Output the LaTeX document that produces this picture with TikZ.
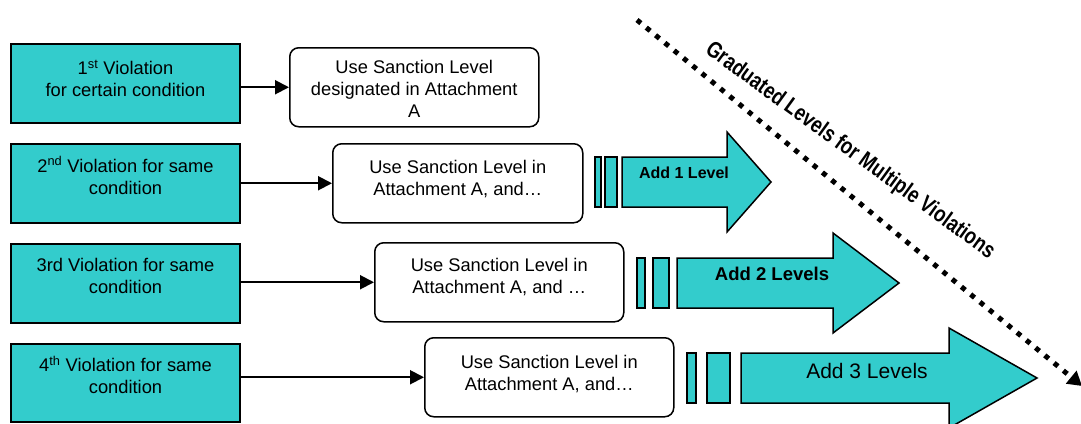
\documentclass[tikz,border=0pt]{standalone}
\usepackage{fontspec}
\setmainfont{Liberation Sans}
\usetikzlibrary{arrows.meta,calc}
\definecolor{tealc}{RGB}{51,204,204}
\begin{document}
\begin{tikzpicture}[x=1pt,y=1pt,
  vbox/.style={draw=black, line width=2pt, fill=tealc, minimum width=229pt, minimum height=79pt, inner sep=0pt, anchor=north west},
  ubox/.style={draw=black, line width=1.5pt, fill=white, rounded corners=9pt, minimum width=249pt, minimum height=79pt, inner sep=0pt, anchor=north west},
  txt/.style={font=\fontsize{18.3}{22}\selectfont, align=center, inner sep=0pt},
  conn/.style={line width=2pt, -{Triangle[length=14pt,width=14pt]}},
  bar/.style={draw=black, line width=1.5pt, fill=tealc},
  bigarrow/.style={draw=black, line width=1.5pt, fill=tealc, line join=miter},
  dots/.style={line width=5pt, dash pattern=on 5pt off 7pt, -{Triangle[length=14pt,width=16pt]}},
]
\useasboundingbox (0,0) rectangle (1081,-423);
\clip (0,0) rectangle (1081,-423);

% Row 1
\node[vbox] (v1) at (10,-43) {};
\node[txt] (v1t) at ($(v1.center)+(0,5)$) {1\textsuperscript{st} Violation\\for certain condition};
\node[ubox] (u1) at (289,-47) {};
\node[txt] (u1t) at ($(u1.center)+(0,-2)$) {Use Sanction Level\\designated in Attachment\\A};
\draw[conn] (v1.east |- u1.west) -- (u1.west);

% Row 2
\node[vbox] (v2) at (10,-143) {};
\node[txt] (v2t) at ($(v2.center)+(0,8)$) {2\textsuperscript{nd} Violation for same\\condition};
\node[ubox, minimum width=250pt] (u2) at (332,-143) {};
\node[txt] (u2t) at ($(u2.center)+(0,4)$) {Use Sanction Level in\\Attachment A, and…};
\draw[conn] (v2.east |- u2.west) -- (u2.west);
\draw[bar] (595,-157) rectangle (601,-207);
\draw[bar] (605,-157) rectangle (617,-207);
\draw[bigarrow] (622,-157) -- (727,-157) -- (727,-132) -- (771,-182) -- (727,-232) -- (727,-207) -- (622,-207) -- cycle;
\node[font=\fontsize{16}{19}\selectfont\bfseries, inner sep=0pt] (a1) at (684,-173) {Add 1 Level};

% Row 3
\node[vbox] (v3) at (10,-243) {};
\node[txt] (v3t) at ($(v3.center)+(0,7.5)$) {3rd Violation for same\\condition};
\node[ubox] (u3) at (374,-242) {};
\node[txt] (u3t) at ($(u3.center)+(0,5)$) {Use Sanction Level in\\Attachment A, and …};
\draw[conn] (v3.east |- u3.west) -- (u3.west);
\draw[bar] (637,-258) rectangle (645,-308);
\draw[bar] (653,-258) rectangle (669,-308);
\draw[bigarrow] (677,-258) -- (833,-258) -- (833,-233) -- (899,-283) -- (833,-333) -- (833,-308) -- (677,-308) -- cycle;
\node[font=\fontsize{18.5}{22}\selectfont\bfseries, inner sep=0pt] (a2) at (772,-274) {Add 2 Levels};

% Row 4
\node[vbox, minimum height=78pt] (v4) at (10,-343) {};
\node[txt] (v4t) at ($(v4.center)+(0,8)$) {4\textsuperscript{th} Violation for same\\condition};
\node[ubox] (u4) at (424,-337) {};
\node[txt] (u4t) at ($(u4.center)+(0,3.5)$) {Use Sanction Level in\\Attachment A, and…};
\draw[conn] (v4.east |- u4.west) -- (u4.west);
\draw[bar] (687,-353) rectangle (696,-403);
\draw[bar] (707,-353) rectangle (730,-403);
\draw[bigarrow] (741,-353) -- (949,-353) -- (949,-328) -- (1037,-378) -- (949,-428) -- (949,-403) -- (741,-403) -- cycle;
\node[font=\fontsize{21}{25}\selectfont, inner sep=0pt] (a3) at (867,-371) {Add 3 Levels};

% Graduated dotted arrow
\coordinate (ds) at (637,-20);
\coordinate (de) at (1082,-386);
\draw[dots] (ds) -- (de);
\node[font=\fontsize{23}{27}\selectfont\bfseries, rotate=-36, inner sep=0pt] (grad) at (850,-151) {\scalebox{0.8}[1]{Graduated Levels for Multiple Violations}};
\end{tikzpicture}
\end{document}
